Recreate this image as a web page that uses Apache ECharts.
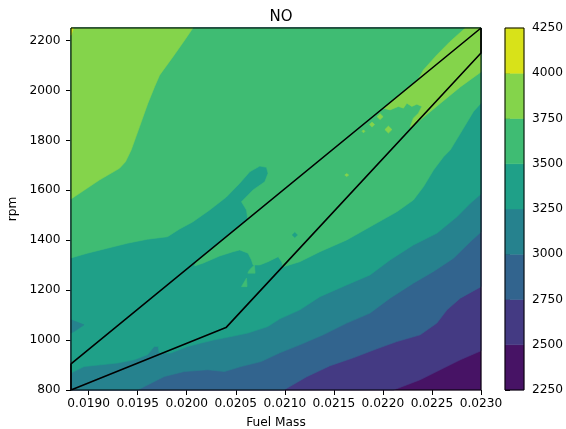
<!DOCTYPE html>
<html><head><meta charset="utf-8">
<script src="https://cdn.jsdelivr.net/npm/echarts@6/dist/echarts.min.js"></script>
<style>html,body{margin:0;padding:0;background:#fff}#c{width:566px;height:429px}</style>
</head><body><div id="c"></div>
<script>
// ---- axes ----
const xMin = 0.01882, xMax = 0.0230, yMin = 800, yMax = 2250;
const levels = [2250, 2500, 2750, 3000, 3250, 3500, 3750, 4000, 4250];
const bandColors = ['#471365', '#443a83', '#32648e', '#26828e', '#1fa088', '#3fbc73', '#84d44b', '#d8e219'];
const xTicks = [0.0190, 0.0195, 0.0200, 0.0205, 0.0210, 0.0215, 0.0220, 0.0225, 0.0230];
const yTicks = [800, 1000, 1200, 1400, 1600, 1800, 2000, 2200];

// ---- black outline ----
const boundary = [[0.01882, 905], [0.0230, 2250], [0.0230, 2150], [0.0204, 1050], [0.01882, 800], [0.01882, 905]];

// ---- filled contour regions (value >= level), [fuel mass, rpm] ----
const region2500 = [[0.022107,800],[0.022380,841],[0.022584,881],[0.022789,921],[0.0230,957],[0.0230,2250],[0.01882,2250],[0.01882,800]];
const region2750 = [[0.020990,800],[0.021222,853],[0.021460,897],[0.021698,929],[0.021937,965],[0.022142,994],[0.022380,1021],[0.022550,1068],[0.022653,1121],[0.022789,1168],[0.0230,1214],[0.0230,2250],[0.01882,2250],[0.01882,800]];
const region3000 = [[0.019498,800],[0.019771,854],[0.019975,874],[0.020213,881],[0.020384,874],[0.020553,894],[0.020758,914],[0.020949,949],[0.021153,981],[0.021391,1021],[0.021631,1068],[0.021869,1108],[0.022073,1168],[0.022311,1228],[0.022516,1275],[0.022720,1328],[0.022891,1394],[0.0230,1433],[0.0230,2250],[0.01882,2250],[0.01882,800]];
const region3250 = [[0.01882,868],[0.018953,894],[0.019123,901],[0.019293,908],[0.019464,921],[0.019600,941],[0.019668,974],[0.019709,974],[0.019719,948],[0.019838,948],[0.020009,974],[0.020145,988],[0.020282,1001],[0.020451,1014],[0.020622,1028],[0.020826,1054],[0.020949,1085],[0.021153,1121],[0.021358,1174],[0.021631,1221],[0.021869,1261],[0.022073,1321],[0.022311,1381],[0.022550,1428],[0.022755,1494],[0.022891,1548],[0.0230,1585],[0.0230,2250],[0.01882,2250]];
const hole3000 = [[0.01882,1081],[0.018953,1061],[0.018851,1034],[0.01882,1028]];
const region3500 = [[0.01882,1329],[0.018987,1348],[0.019191,1368],[0.019396,1388],[0.019600,1404],[0.019804,1414],[0.019927,1445],[0.020060,1473],[0.020234,1521],[0.020404,1573],[0.020540,1628],[0.020642,1674],[0.020745,1697],[0.020813,1692],[0.020829,1668],[0.020796,1634],[0.020676,1601],[0.020558,1554],[0.020609,1521],[0.020622,1485],[0.020101,1317],[0.020080,1297],[0.020165,1308],[0.020336,1337],[0.020472,1354],[0.020540,1361],[0.020625,1348],[0.020660,1321],[0.020676,1301],[0.020745,1301],[0.020829,1314],[0.020932,1334],[0.020969,1313],[0.020980,1293],[0.021153,1314],[0.021358,1354],[0.021631,1401],[0.021902,1461],[0.022142,1514],[0.022311,1561],[0.022413,1614],[0.022516,1681],[0.022618,1734],[0.022686,1761],[0.022822,1849],[0.022924,1916],[0.0230,1949],[0.0230,2250],[0.01882,2250]];
const island3250 = [[0.021076,1421],[0.021102,1431],[0.021128,1421],[0.021102,1411]];
const islands3500 = [
  [[0.020558,1214],[0.020609,1248],[0.020615,1214]],
  [[0.020639,1281],[0.020690,1301],[0.020697,1268],[0.020622,1268]]
];
const region3750a = [[0.01882,2250],[0.020063,2250],[0.019978,2201],[0.019858,2134],[0.019723,2061],[0.019671,2014],[0.019603,1948],[0.019518,1854],[0.019433,1761],[0.019375,1714],[0.019314,1688],[0.019109,1641],[0.01882,1565]];
const region3750b = [[0.022840,2250],[0.0230,2250],[0.0230,2074],[0.022789,2014],[0.022584,1948],[0.022380,1881],[0.022298,1857],[0.022278,1853],[0.022311,1889],[0.022362,1909],[0.022397,1936],[0.022346,1945],[0.022295,1936],[0.022244,1949],[0.022209,1929],[0.022158,1936],[0.022073,1922],[0.022005,1929],[0.022359,2044],[0.022413,2082],[0.022550,2142],[0.022686,2196]];
const islands3750 = [
  [[0.021940,1895],[0.021971,1907],[0.022002,1895],[0.021971,1883]],
  [[0.021863,1863],[0.021889,1873],[0.021915,1863],[0.021889,1853]],
  [[0.022020,1843],[0.022056,1857],[0.022092,1843],[0.022056,1829]],
  [[0.021787,1836],[0.021802,1842],[0.021817,1836],[0.021802,1830]],
  [[0.021611,1661],[0.021631,1667],[0.021651,1661],[0.021631,1655]]
];
const region4000 = [[0.01882,2250],[0.018845,2250],[0.018828,2229],[0.01882,2221]];

const fullRect = [[xMin, yMin], [xMax, yMin], [xMax, yMax], [xMin, yMax]];
const layers = [
  {band: 0, pts: fullRect},
  {band: 1, pts: region2500},
  {band: 2, pts: region2750},
  {band: 3, pts: region3000},
  {band: 4, pts: region3250},
  {band: 3, pts: hole3000},
  {band: 5, pts: region3500},
  {band: 4, pts: island3250},
  ...islands3500.map(p => ({band: 5, pts: p})),
  {band: 6, pts: region3750a},
  {band: 6, pts: region3750b},
  ...islands3750.map(p => ({band: 6, pts: p})),
  {band: 7, pts: region4000}
];

const font = 'DejaVu Sans';
const fs = 12.2;
const chart = echarts.init(document.getElementById('c'), null, {renderer: 'canvas'});
chart.setOption({
  animation: false,
  backgroundColor: '#fff',
  textStyle: {fontFamily: font},
  title: {text: 'NO', left: 276, top: 5, textAlign: 'center',
    textStyle: {fontFamily: font, fontSize: 15, fontWeight: 'normal', color: '#000'}},
  grid: [
    {left: 71, right: 85, top: 28, bottom: 39, containLabel: false, outerBoundsMode: 'none'},
    {left: 505, width: 19, top: 28, bottom: 39, containLabel: false, outerBoundsMode: 'none'}
  ],
  xAxis: [
    {type: 'value', gridIndex: 0, min: xMin, max: xMax,
      name: 'Fuel Mass', nameLocation: 'middle', nameGap: 27,
      nameTextStyle: {fontFamily: font, fontSize: fs, color: '#000'},
      axisLine: {show: false},
      axisTick: {show: true, length: 5, customValues: xTicks, lineStyle: {color: '#000', width: 1}},
      axisLabel: {customValues: xTicks, formatter: v => v.toFixed(4), fontFamily: font, fontSize: fs, color: '#000', margin: 8},
      splitLine: {show: false}},
    {type: 'value', gridIndex: 1, min: 0, max: 1, show: false}
  ],
  yAxis: [
    {type: 'value', gridIndex: 0, min: yMin, max: yMax,
      name: 'rpm', nameLocation: 'middle', nameGap: 45, nameRotate: 90,
      nameTextStyle: {fontFamily: font, fontSize: fs, color: '#000'},
      axisLine: {show: false},
      axisTick: {show: true, length: 5, customValues: yTicks, lineStyle: {color: '#000', width: 1}},
      axisLabel: {customValues: yTicks, formatter: v => String(v), fontFamily: font, fontSize: fs, color: '#000', margin: 10.5},
      splitLine: {show: false}},
    {type: 'value', gridIndex: 1, min: levels[0], max: levels[levels.length - 1], interval: 250, position: 'right',
      axisLine: {show: false},
      axisTick: {show: true, length: 5, lineStyle: {color: '#000', width: 1}},
      axisLabel: {formatter: v => String(v), fontFamily: font, fontSize: fs, color: '#000', margin: 8},
      splitLine: {show: false}}
  ],
  series: [
    {type: 'custom', xAxisIndex: 0, yAxisIndex: 0, silent: true, z: 2,
      data: layers.map(l => l.pts[0]),
      renderItem: (params, api) => {
        const l = layers[params.dataIndex];
        const c = bandColors[l.band];
        return {type: 'polygon', shape: {points: l.pts.map(p => api.coord(p))},
          style: {fill: c, stroke: c, lineWidth: 0.6}};
      }},
    {type: 'line', xAxisIndex: 0, yAxisIndex: 0, data: boundary, symbol: 'none', silent: true, z: 4,
      lineStyle: {color: '#000', width: 1.6}},
    {type: 'custom', xAxisIndex: 0, yAxisIndex: 0, silent: true, z: 5,
      data: [[xMin, yMin]],
      renderItem: (params, api) => {
        const a = api.coord([xMin, yMin]), b = api.coord([xMax, yMax]);
        return {type: 'rect', shape: {x: a[0], y: b[1], width: b[0] - a[0], height: a[1] - b[1]},
          style: {fill: 'none', stroke: '#000', lineWidth: 1}};
      }},
    {type: 'custom', xAxisIndex: 1, yAxisIndex: 1, silent: true, z: 2,
      data: bandColors.map((c, i) => [0, levels[i]]),
      renderItem: (params, api) => {
        const i = params.dataIndex;
        const a = api.coord([0, levels[i]]), b = api.coord([1, levels[i + 1]]);
        return {type: 'rect', shape: {x: a[0], y: b[1], width: b[0] - a[0], height: a[1] - b[1]},
          style: {fill: bandColors[i], stroke: bandColors[i], lineWidth: 0.5}};
      }},
    {type: 'custom', xAxisIndex: 1, yAxisIndex: 1, silent: true, z: 5,
      data: [[0, levels[0]]],
      renderItem: (params, api) => {
        const a = api.coord([0, levels[0]]), b = api.coord([1, levels[levels.length - 1]]);
        return {type: 'rect', shape: {x: a[0], y: b[1], width: b[0] - a[0], height: a[1] - b[1]},
          style: {fill: 'none', stroke: '#000', lineWidth: 1}};
      }}
  ]
});
</script></body></html>
